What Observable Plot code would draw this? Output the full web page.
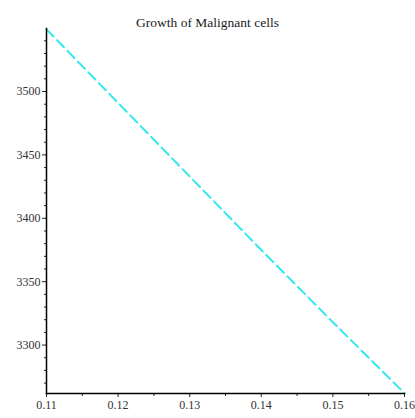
<!DOCTYPE html>
<html>
<head>
<meta charset="utf-8">
<script src="https://cdn.jsdelivr.net/npm/d3@7"></script>
<script src="https://cdn.jsdelivr.net/npm/@observablehq/plot@0.6"></script>
<style>
  html, body { margin: 0; padding: 0; background: #fff; }
</style>
</head>
<body>
<div id="chart"></div>
<script>
const title = "Growth of Malignant cells";
const xValues = [0.11, 0.12, 0.13, 0.14, 0.15, 0.16];
const yValues = [3549, 3491, 3433, 3375, 3318, 3262];
const xTicks = [0.11, 0.12, 0.13, 0.14, 0.15, 0.16];
const xMinorTicks = [0.115, 0.125, 0.135, 0.145, 0.155];
const yTicks = [3300, 3350, 3400, 3450, 3500];
const yMinorTicks = [3270, 3280, 3290, 3310, 3320, 3330, 3340, 3360, 3370, 3380, 3390, 3410, 3420, 3430, 3440, 3460, 3470, 3480, 3490, 3510, 3520, 3530, 3540];

const data = xValues.map((x, i) => ({x, y: yValues[i]}));
const font = "Liberation Serif";

const chart = Plot.plot({
  width: 415,
  height: 418,
  marginTop: 28,
  marginBottom: 25,
  marginLeft: 46,
  marginRight: 11,
  style: {fontFamily: font, fontSize: "12px", background: "#fff"},
  x: {domain: [0.11, 0.16]},
  y: {domain: [3261.8, 3549.7]},
  marks: [
    Plot.line(data, {x: "x", y: "y", stroke: "#33E8F0", strokeWidth: 2, strokeDasharray: "10,5"}),
    Plot.axisX({ticks: xTicks, tickSize: 4, tickPadding: 3, tickFormat: d => d.toFixed(2), label: null, color: "#333", stroke: "#222", fontSize: 12}),
    Plot.axisX({ticks: xMinorTicks, tickSize: 3, text: null, label: null, stroke: "#222"}),
    Plot.axisY({ticks: yTicks, tickSize: 4, tickPadding: 2, tickFormat: d => String(d), label: null, color: "#333", stroke: "#222", fontSize: 12}),
    Plot.axisY({ticks: yMinorTicks, tickSize: 2, text: null, label: null, stroke: "#222"}),
    Plot.frame({anchor: "left", stroke: "#000", strokeWidth: 1.5}),
    Plot.frame({anchor: "bottom", stroke: "#000", strokeWidth: 1.5}),
    Plot.text([title], {frameAnchor: "top", dy: -11, dx: -18, fontSize: 13.5, fill: "#222", fontFamily: font})
  ]
});
document.getElementById("chart").appendChild(chart);
</script>
</body>
</html>
